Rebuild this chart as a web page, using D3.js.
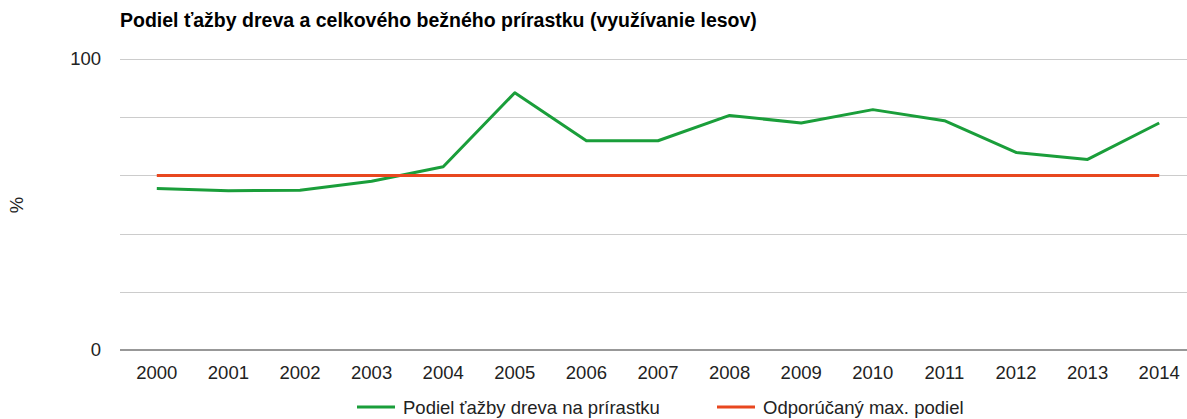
<!DOCTYPE html>
<html>
<head>
<meta charset="utf-8">
<script src="https://cdn.jsdelivr.net/npm/d3@7"></script>
<style>
body{margin:0;background:#fff;font-family:Arial,"Liberation Sans",sans-serif}
</style>
</head>
<body>
<div id="graphHolder"></div>
<script>
// data
const years = ['2000','2001','2002','2003','2004','2005','2006','2007','2008','2009','2010','2011','2012','2013','2014']
const harvestShare = [55.5,54.7,54.9,58.0,63.0,88.4,71.9,71.9,80.6,78.0,82.6,78.8,67.9,65.5,78.0]
const recommendedMax = [60,60,60,60,60,60,60,60,60,60,60,60,60,60,60]
const yTicks = [0,20,40,60,80,100]
const yLabels = [0,100]
const seriesNames = ['Podiel ťažby dreva na prírastku','Odporúčaný max. podiel']
const colors = ['#1a9e3a','#e8471f']

const width = 1187,height = 419
const plotLeft = 120,plotRight = 1187,plotTop = 59,plotBottom = 350
const fontSize = '18.5px'

const svg = d3.select('#graphHolder').append('svg')
	.attr('width',width).attr('height',height)

// the category bands run a little past the right edge in the original
const x = d3.scalePoint().domain(years).range([121,1195]).padding(0.5)
const y = d3.scaleLinear().domain([0,100]).range([plotBottom,plotTop])

//title
svg.append('text')
	.attr('x',120).attr('y',27)
	.style('font-size','19.5px').style('font-weight','bold').attr('fill','#000')
	.text('Podiel ťažby dreva a celkového bežného prírastku (využívanie lesov)')

//grid
svg.append('g').selectAll('line').data(yTicks.filter(d => d > 0)).enter().append('line')
	.attr('x1',plotLeft).attr('x2',plotRight)
	.attr('y1',d => Math.round(y(d))+0.5).attr('y2',d => Math.round(y(d))+0.5)
	.attr('stroke','#ccc')
svg.append('line')
	.attr('x1',plotLeft).attr('x2',plotRight)
	.attr('y1',Math.round(y(0))).attr('y2',Math.round(y(0)))
	.attr('stroke','#333').attr('stroke-width',1.2)

//y labels
svg.append('g').selectAll('text').data(yLabels).enter().append('text')
	.attr('x',101).attr('y',d => y(d)+6)
	.attr('text-anchor','end')
	.style('font-size',fontSize).attr('fill','#222')
	.text(d => d)

svg.append('text')
	.attr('transform','translate(23,205) rotate(-90)')
	.attr('text-anchor','middle')
	.style('font-size',fontSize).attr('fill','#222')
	.text('%')

//x labels
svg.append('g').selectAll('text').data(years).enter().append('text')
	.attr('x',d => x(d)).attr('y',379)
	.attr('text-anchor','middle')
	.style('font-size',fontSize).attr('fill','#222')
	.text(d => d)

//lines
const line = d3.line().x((d,i) => x(years[i])).y(d => y(d))
;[harvestShare,recommendedMax].forEach((s,i) => {
	svg.append('path').datum(s)
		.attr('d',line)
		.attr('fill','none')
		.attr('stroke',colors[i])
		.attr('stroke-width',3)
		.attr('stroke-linejoin','round')
})

//legend
const legendX = [357,717]
const lg = svg.append('g').selectAll('g').data(seriesNames).enter().append('g')
	.attr('transform',(d,i) => `translate(${legendX[i]},407)`)
lg.append('line')
	.attr('x1',0).attr('x2',38).attr('y1',0).attr('y2',0)
	.attr('stroke',(d,i) => colors[i]).attr('stroke-width',3)
lg.append('text')
	.attr('x',46).attr('y',7)
	.style('font-size',fontSize).attr('fill','#222')
	.text(d => d)
</script>
</body>
</html>
